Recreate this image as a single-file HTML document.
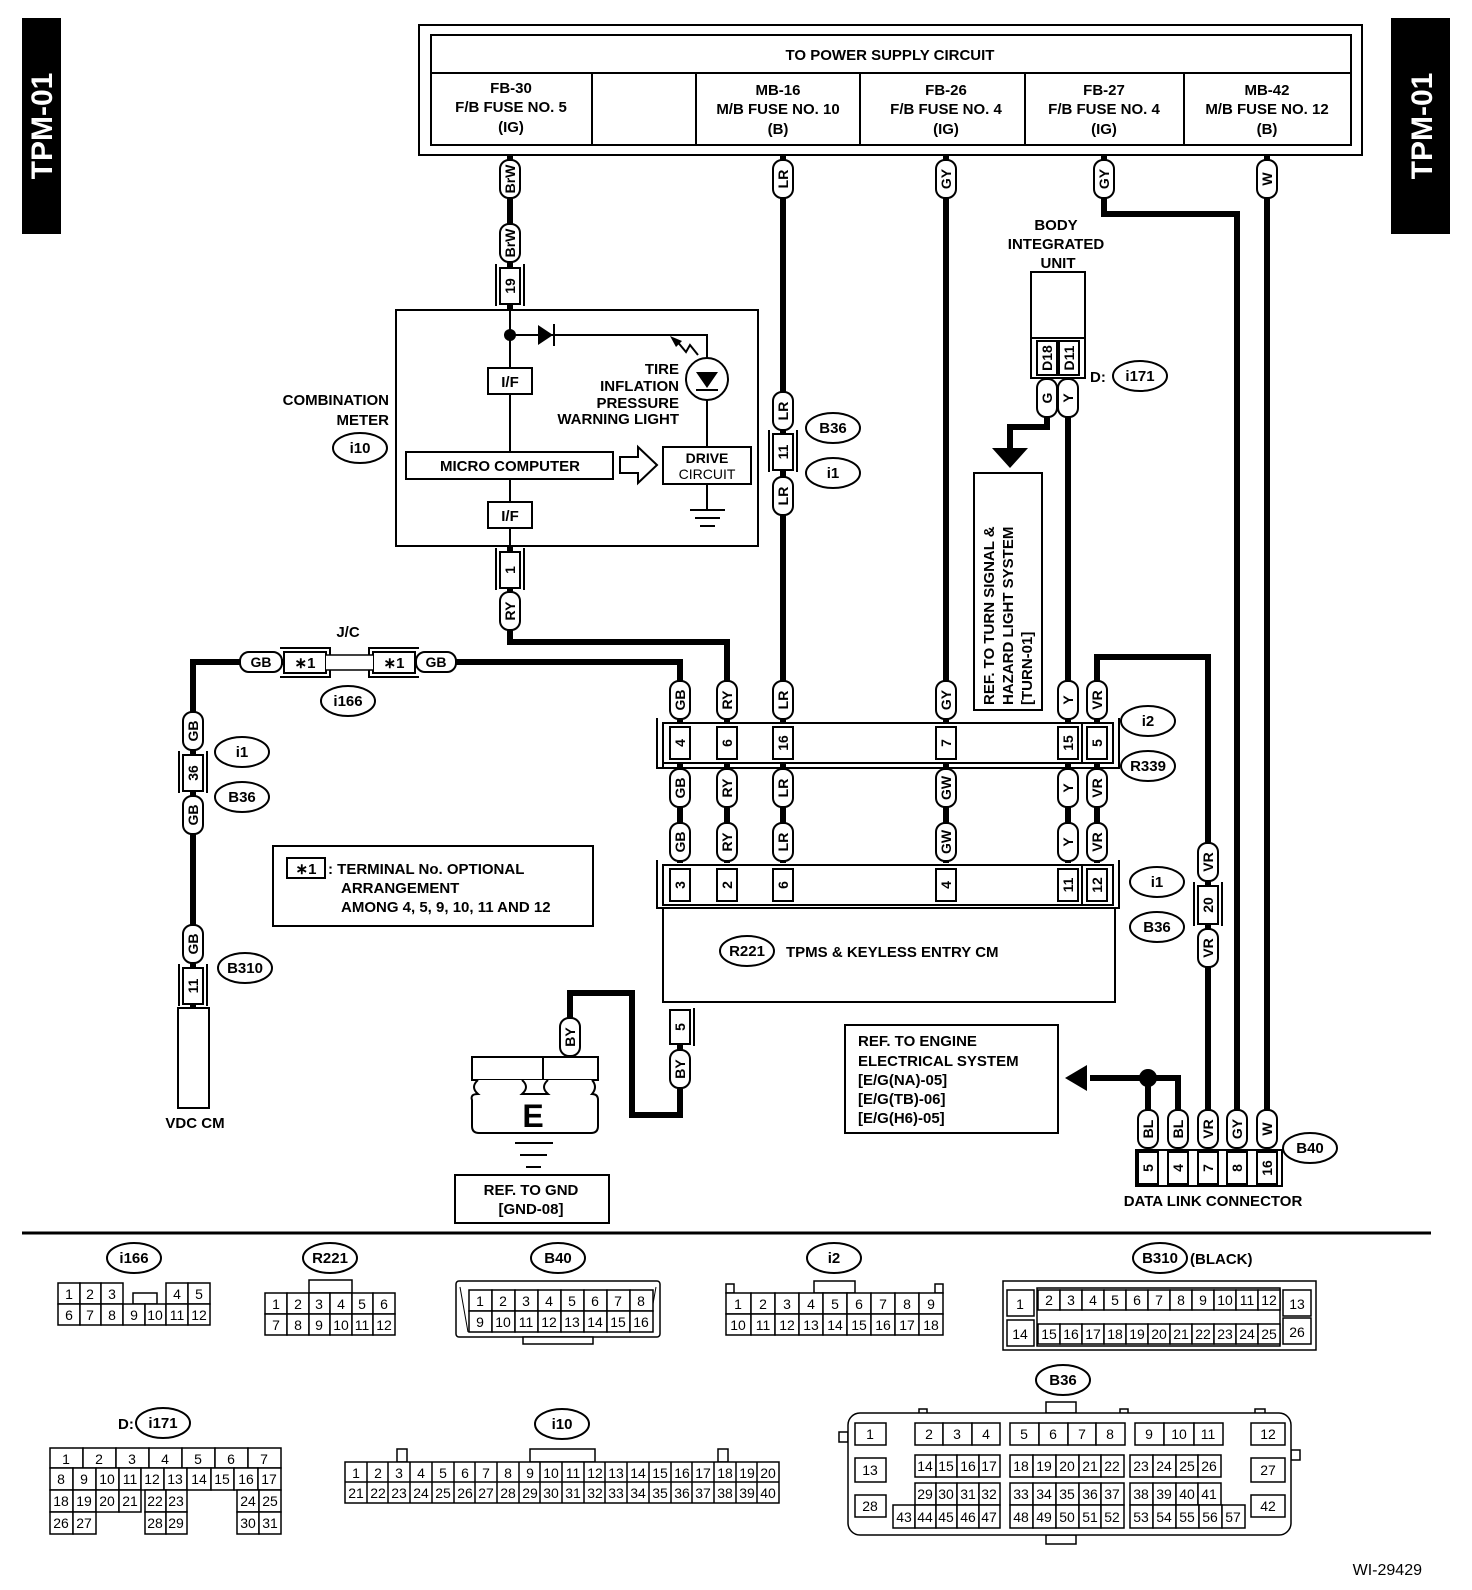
<!DOCTYPE html>
<html><head><meta charset="utf-8"><style>
html,body{margin:0;padding:0;background:#fff}
svg{display:block}
text{font-family:"Liberation Sans",Arial,sans-serif;font-weight:bold;fill:#000}
.w{fill:none;stroke:#000;stroke-width:6}
.t{fill:none;stroke:#000;stroke-width:2}
.b{fill:#fff;stroke:#000;stroke-width:2}
.l rect{fill:#fff;stroke:#000;stroke-width:2}
.l text{font-size:14px;text-anchor:middle}
.c text{font-size:14px;text-anchor:middle;font-weight:normal}
.c rect{fill:#fff;stroke:#000;stroke-width:1.5}
.o ellipse{fill:#fff;stroke:#000;stroke-width:2}
.o text{font-size:15px;text-anchor:middle}
.m{font-size:15px}
</style></head><body>
<svg width="1472" height="1590" viewBox="0 0 1472 1590" xmlns="http://www.w3.org/2000/svg">
<!-- side bars -->
<rect x="22" y="18" width="39" height="216" fill="#000"/>
<text transform="translate(52,126) rotate(-90)" text-anchor="middle" style="font-size:30px;fill:#fff">TPM-01</text>
<rect x="1391" y="18" width="59" height="216" fill="#000"/>
<text transform="translate(1432,126) rotate(-90)" text-anchor="middle" style="font-size:30px;fill:#fff">TPM-01</text>

<!-- power box -->
<rect x="419" y="25" width="943" height="130" class="t"/>
<rect x="431" y="35" width="920" height="110" class="t"/>
<line x1="431" y1="73" x2="1351" y2="73" class="t"/>
<g class="t"><line x1="592" y1="73" x2="592" y2="145"/><line x1="696" y1="73" x2="696" y2="145"/><line x1="860" y1="73" x2="860" y2="145"/><line x1="1025" y1="73" x2="1025" y2="145"/><line x1="1184" y1="73" x2="1184" y2="145"/></g>
<g class="m" text-anchor="middle">
<text x="890" y="60">TO POWER SUPPLY CIRCUIT</text>
<text x="511" y="93">FB-30</text><text x="511" y="112">F/B FUSE NO. 5</text><text x="511" y="132">(IG)</text>
<text x="778" y="95">MB-16</text><text x="778" y="114">M/B FUSE NO. 10</text><text x="778" y="134">(B)</text>
<text x="946" y="95">FB-26</text><text x="946" y="114">F/B FUSE NO. 4</text><text x="946" y="134">(IG)</text>
<text x="1104" y="95">FB-27</text><text x="1104" y="114">F/B FUSE NO. 4</text><text x="1104" y="134">(IG)</text>
<text x="1267" y="95">MB-42</text><text x="1267" y="114">M/B FUSE NO. 12</text><text x="1267" y="134">(B)</text>
</g>

<!-- thick wires -->
<g class="w">
<path d="M510 155V310"/><path d="M783 155V725"/><path d="M946 155V725"/>
<path d="M1104 155V214H1237V1110"/><path d="M1267 155V1110"/>
<path d="M510 546V642H727V725"/>
<path d="M680 725V662H193V1010"/>
<path d="M1068 400V725"/>
<path d="M1097 725V657H1208V1110"/>
<path d="M1148 1078V1110M1148 1078H1178V1110M1148 1078H1090"/>
<path d="M1047 400V427H1010V450"/>
<path d="M680 1045V1115H632V993H570V1020"/>
<path d="M680 763V863M727 763V863M783 763V863M946 763V863M1068 763V863M1097 763V863"/>
</g>
<circle cx="1148" cy="1078" r="9"/>
<polygon points="1065,1078 1087,1065 1087,1091"/>
<polygon points="992,448 1028,448 1010,468"/>

<!-- combination meter -->
<rect x="396" y="310" width="362" height="236" class="t"/>
<g class="t">
<path d="M510 310V455M510 478V546"/>
<path d="M510 335H707V447"/>
<path d="M707 484V510M690 510H725M695 518H720M700 526H715"/>
</g>
<circle cx="510" cy="335" r="6"/>
<polygon points="538,325 538,345 553,335"/><line x1="554" y1="324" x2="554" y2="346" stroke="#000" stroke-width="2"/>
<circle cx="707" cy="379" r="21" class="b"/>
<polygon points="696,372 718,372 707,388"/><line x1="696" y1="390" x2="718" y2="390" stroke="#000" stroke-width="2"/>
<path d="M698 355L690 345L686 352L676 340" class="t"/><polygon points="670,336 682,341 676,347"/>
<rect x="488" y="368" width="44" height="26" class="b"/><text x="510" y="387" text-anchor="middle" class="m">I/F</text>
<rect x="488" y="502" width="44" height="26" class="b"/><text x="510" y="521" text-anchor="middle" class="m">I/F</text>
<rect x="406" y="452" width="207" height="27" class="b"/><text x="510" y="471" text-anchor="middle" class="m">MICRO COMPUTER</text>
<polygon points="620,457 638,457 638,447 657,465 638,483 638,473 620,473" class="b"/>
<rect x="663" y="447" width="88" height="37" class="b"/>
<text x="707" y="463" text-anchor="middle" style="font-size:14px">DRIVE</text><text x="707" y="479" text-anchor="middle" style="font-size:14px;font-weight:normal">CIRCUIT</text>
<g class="m" text-anchor="end"><text x="679" y="374">TIRE</text><text x="679" y="391">INFLATION</text><text x="679" y="408">PRESSURE</text><text x="679" y="424">WARNING LIGHT</text></g>
<g class="m" text-anchor="end"><text x="389" y="405">COMBINATION</text><text x="389" y="425">METER</text></g>

<!-- wire labels -->
<g class="l">
<g transform="translate(510,179)"><rect x="-10" y="-19" width="20" height="38" rx="9"/><text transform="rotate(-90)" y="5">BrW</text></g>
<g transform="translate(510,243)"><rect x="-10" y="-19" width="20" height="38" rx="9"/><text transform="rotate(-90)" y="5">BrW</text></g>
<g transform="translate(783,179)"><rect x="-10" y="-19" width="20" height="38" rx="9"/><text transform="rotate(-90)" y="5">LR</text></g>
<g transform="translate(946,179)"><rect x="-10" y="-19" width="20" height="38" rx="9"/><text transform="rotate(-90)" y="5">GY</text></g>
<g transform="translate(1104,179)"><rect x="-10" y="-19" width="20" height="38" rx="9"/><text transform="rotate(-90)" y="5">GY</text></g>
<g transform="translate(1267,179)"><rect x="-10" y="-19" width="20" height="38" rx="9"/><text transform="rotate(-90)" y="5">W</text></g>
<g transform="translate(783,411)"><rect x="-10" y="-19" width="20" height="38" rx="9"/><text transform="rotate(-90)" y="5">LR</text></g>
<g transform="translate(783,496)"><rect x="-10" y="-19" width="20" height="38" rx="9"/><text transform="rotate(-90)" y="5">LR</text></g>
<g transform="translate(510,611)"><rect x="-10" y="-19" width="20" height="38" rx="9"/><text transform="rotate(-90)" y="5">RY</text></g>
<g transform="translate(1047,398)"><rect x="-10" y="-19" width="20" height="38" rx="9"/><text transform="rotate(-90)" y="5">G</text></g>
<g transform="translate(1068,398)"><rect x="-10" y="-19" width="20" height="38" rx="9"/><text transform="rotate(-90)" y="5">Y</text></g>
<!-- row top -->
<g transform="translate(680,700)"><rect x="-10" y="-19" width="20" height="38" rx="9"/><text transform="rotate(-90)" y="5">GB</text></g>
<g transform="translate(727,700)"><rect x="-10" y="-19" width="20" height="38" rx="9"/><text transform="rotate(-90)" y="5">RY</text></g>
<g transform="translate(783,700)"><rect x="-10" y="-19" width="20" height="38" rx="9"/><text transform="rotate(-90)" y="5">LR</text></g>
<g transform="translate(946,700)"><rect x="-10" y="-19" width="20" height="38" rx="9"/><text transform="rotate(-90)" y="5">GY</text></g>
<g transform="translate(1068,700)"><rect x="-10" y="-19" width="20" height="38" rx="9"/><text transform="rotate(-90)" y="5">Y</text></g>
<g transform="translate(1097,700)"><rect x="-10" y="-19" width="20" height="38" rx="9"/><text transform="rotate(-90)" y="5">VR</text></g>
<!-- row mid -->
<g transform="translate(680,788)"><rect x="-10" y="-19" width="20" height="38" rx="9"/><text transform="rotate(-90)" y="5">GB</text></g>
<g transform="translate(727,788)"><rect x="-10" y="-19" width="20" height="38" rx="9"/><text transform="rotate(-90)" y="5">RY</text></g>
<g transform="translate(783,788)"><rect x="-10" y="-19" width="20" height="38" rx="9"/><text transform="rotate(-90)" y="5">LR</text></g>
<g transform="translate(946,788)"><rect x="-10" y="-19" width="20" height="38" rx="9"/><text transform="rotate(-90)" y="5">GW</text></g>
<g transform="translate(1068,788)"><rect x="-10" y="-19" width="20" height="38" rx="9"/><text transform="rotate(-90)" y="5">Y</text></g>
<g transform="translate(1097,788)"><rect x="-10" y="-19" width="20" height="38" rx="9"/><text transform="rotate(-90)" y="5">VR</text></g>
<g transform="translate(680,842)"><rect x="-10" y="-19" width="20" height="38" rx="9"/><text transform="rotate(-90)" y="5">GB</text></g>
<g transform="translate(727,842)"><rect x="-10" y="-19" width="20" height="38" rx="9"/><text transform="rotate(-90)" y="5">RY</text></g>
<g transform="translate(783,842)"><rect x="-10" y="-19" width="20" height="38" rx="9"/><text transform="rotate(-90)" y="5">LR</text></g>
<g transform="translate(946,842)"><rect x="-10" y="-19" width="20" height="38" rx="9"/><text transform="rotate(-90)" y="5">GW</text></g>
<g transform="translate(1068,842)"><rect x="-10" y="-19" width="20" height="38" rx="9"/><text transform="rotate(-90)" y="5">Y</text></g>
<g transform="translate(1097,842)"><rect x="-10" y="-19" width="20" height="38" rx="9"/><text transform="rotate(-90)" y="5">VR</text></g>
<!-- GB left -->
<g transform="translate(193,731)"><rect x="-10" y="-19" width="20" height="38" rx="9"/><text transform="rotate(-90)" y="5">GB</text></g>
<g transform="translate(193,815)"><rect x="-10" y="-19" width="20" height="38" rx="9"/><text transform="rotate(-90)" y="5">GB</text></g>
<g transform="translate(193,944)"><rect x="-10" y="-19" width="20" height="38" rx="9"/><text transform="rotate(-90)" y="5">GB</text></g>
<!-- VR right -->
<g transform="translate(1208,862)"><rect x="-10" y="-19" width="20" height="38" rx="9"/><text transform="rotate(-90)" y="5">VR</text></g>
<g transform="translate(1208,948)"><rect x="-10" y="-19" width="20" height="38" rx="9"/><text transform="rotate(-90)" y="5">VR</text></g>
<!-- BY -->
<g transform="translate(570,1037)"><rect x="-10" y="-19" width="20" height="38" rx="9"/><text transform="rotate(-90)" y="5">BY</text></g>
<g transform="translate(680,1069)"><rect x="-10" y="-19" width="20" height="38" rx="9"/><text transform="rotate(-90)" y="5">BY</text></g>
<!-- DLC -->
<g transform="translate(1148,1129)"><rect x="-10" y="-19" width="20" height="38" rx="9"/><text transform="rotate(-90)" y="5">BL</text></g>
<g transform="translate(1178,1129)"><rect x="-10" y="-19" width="20" height="38" rx="9"/><text transform="rotate(-90)" y="5">BL</text></g>
<g transform="translate(1208,1129)"><rect x="-10" y="-19" width="20" height="38" rx="9"/><text transform="rotate(-90)" y="5">VR</text></g>
<g transform="translate(1237,1129)"><rect x="-10" y="-19" width="20" height="38" rx="9"/><text transform="rotate(-90)" y="5">GY</text></g>
<g transform="translate(1267,1129)"><rect x="-10" y="-19" width="20" height="38" rx="9"/><text transform="rotate(-90)" y="5">W</text></g>
<!-- GB horizontal -->
<rect x="240" y="652" width="42" height="20" rx="9"/><text x="261" y="667">GB</text>
<rect x="416" y="652" width="40" height="20" rx="9"/><text x="436" y="667">GB</text>
</g>

<!-- pin connectors (vertical) -->
<g class="l">
<rect x="500" y="268" width="20" height="36"/><text transform="translate(515,286) rotate(-90)">19</text>
<rect x="500" y="552" width="20" height="36"/><text transform="translate(515,570) rotate(-90)">1</text>
<rect x="773" y="434" width="20" height="36"/><text transform="translate(788,452) rotate(-90)">11</text>
<rect x="183" y="755" width="20" height="36"/><text transform="translate(198,773) rotate(-90)">36</text>
<rect x="183" y="968" width="20" height="36"/><text transform="translate(198,986) rotate(-90)">11</text>
<rect x="1198" y="886" width="20" height="38"/><text transform="translate(1213,905) rotate(-90)">20</text>
<rect x="670" y="1010" width="20" height="34"/><text transform="translate(685,1027) rotate(-90)">5</text>
</g>
<g class="t">
<path d="M496 264V306M524 264V306M496 548V590M524 548V590M769 430V472M797 430V472M179 751V793M207 751V793M179 964V1006M207 964V1006M1194 882V926M1222 882V926M694 1008V1046"/>
</g>
<rect x="178" y="1008" width="31" height="100" class="b"/>
<text x="195" y="1128" text-anchor="middle" class="m">VDC CM</text>

<!-- J/C -->
<rect x="284" y="652" width="42" height="21" class="b"/><text x="305" y="668" text-anchor="middle" class="m">∗1</text>
<rect x="373" y="652" width="42" height="21" class="b"/><text x="394" y="668" text-anchor="middle" class="m">∗1</text>
<path d="M280 648H330V677H280M419 648H369V677H419" class="t"/>
<rect x="326" y="655" width="47" height="15" fill="#fff"/>
<line x1="326" y1="655" x2="373" y2="655" stroke="#000" stroke-width="1.5"/><line x1="326" y1="670" x2="373" y2="670" stroke="#000" stroke-width="1.5"/>
<text x="348" y="637" text-anchor="middle" class="m">J/C</text>

<!-- row connectors i2 / R339 -->
<rect x="663" y="723" width="450" height="40" class="b"/>
<path d="M657 718V768H1119V718" class="t"/>
<path d="M663 763V768" class="t"/>
<g class="l">
<rect x="670" y="727" width="20" height="32"/><text transform="translate(685,743) rotate(-90)">4</text>
<rect x="717" y="727" width="20" height="32"/><text transform="translate(732,743) rotate(-90)">6</text>
<rect x="773" y="727" width="20" height="32"/><text transform="translate(788,743) rotate(-90)">16</text>
<rect x="936" y="727" width="20" height="32"/><text transform="translate(951,743) rotate(-90)">7</text>
<rect x="1058" y="727" width="20" height="32"/><text transform="translate(1073,743) rotate(-90)">15</text>
<rect x="1087" y="727" width="20" height="32"/><text transform="translate(1102,743) rotate(-90)">5</text>
</g>
<line x1="1082" y1="723" x2="1082" y2="763" stroke="#000" stroke-width="2"/>
<!-- R221 connector row -->
<rect x="663" y="865" width="450" height="40" class="b"/>
<path d="M657 860V908H1119V860" class="t"/>
<g class="l">
<rect x="670" y="869" width="20" height="32"/><text transform="translate(685,885) rotate(-90)">3</text>
<rect x="717" y="869" width="20" height="32"/><text transform="translate(732,885) rotate(-90)">2</text>
<rect x="773" y="869" width="20" height="32"/><text transform="translate(788,885) rotate(-90)">6</text>
<rect x="936" y="869" width="20" height="32"/><text transform="translate(951,885) rotate(-90)">4</text>
<rect x="1058" y="869" width="20" height="32"/><text transform="translate(1073,885) rotate(-90)">11</text>
<rect x="1087" y="869" width="20" height="32"/><text transform="translate(1102,885) rotate(-90)">12</text>
</g>
<line x1="1082" y1="865" x2="1082" y2="905" stroke="#000" stroke-width="2"/>
<rect x="663" y="908" width="452" height="94" class="b"/>
<text x="786" y="957" class="m">TPMS &amp; KEYLESS ENTRY CM</text>

<!-- body integrated unit -->
<g class="m" text-anchor="middle"><text x="1056" y="230">BODY</text><text x="1056" y="249">INTEGRATED</text><text x="1058" y="268">UNIT</text></g>
<rect x="1031" y="272" width="54" height="66" class="b"/>
<rect x="1031" y="338" width="54" height="40" class="b"/>
<g class="l"><rect x="1037" y="341" width="20" height="34"/><text transform="translate(1052,358) rotate(-90)">D18</text>
<rect x="1059" y="341" width="20" height="34"/><text transform="translate(1074,358) rotate(-90)">D11</text></g>
<rect x="974" y="473" width="68" height="237" class="t"/>
<g class="m"><text transform="translate(994,705) rotate(-90)">REF. TO TURN SIGNAL &amp;</text><text transform="translate(1013,705) rotate(-90)">HAZARD LIGHT SYSTEM</text><text transform="translate(1032,705) rotate(-90)">[TURN-01]</text></g>

<!-- legend -->
<rect x="273" y="846" width="320" height="80" class="t"/>
<rect x="287" y="858" width="38" height="20" class="t"/><text x="306" y="874" text-anchor="middle" class="m">∗1</text>
<g class="m"><text x="328" y="874">: TERMINAL No. OPTIONAL</text><text x="341" y="893">ARRANGEMENT</text><text x="341" y="912">AMONG 4, 5, 9, 10, 11 AND 12</text></g>

<!-- ground -->
<rect x="472" y="1057" width="87" height="23" class="b"/>
<rect x="543" y="1057" width="55" height="23" class="b"/>
<path d="M478 1080Q470 1087 478 1094L478 1094Q470 1094 472 1100V1126Q472 1133 479 1133H591Q598 1133 598 1126V1100Q598 1094 592 1094Q598 1087 592 1080M522 1080Q530 1087 522 1094H548Q540 1087 548 1080" class="b"/>
<text x="533" y="1127" text-anchor="middle" style="font-size:32px">E</text>
<path d="M515 1143H553M520 1155H547M526 1167H541" class="t"/>
<rect x="455" y="1175" width="154" height="48" class="t"/>
<g class="m" text-anchor="middle"><text x="531" y="1195">REF. TO GND</text><text x="531" y="1214">[GND-08]</text></g>

<!-- engine ref -->
<rect x="845" y="1025" width="213" height="108" class="t"/>
<g class="m"><text x="858" y="1046">REF. TO ENGINE</text><text x="858" y="1066">ELECTRICAL SYSTEM</text><text x="858" y="1085">[E/G(NA)-05]</text><text x="858" y="1104">[E/G(TB)-06]</text><text x="858" y="1123">[E/G(H6)-05]</text></g>

<!-- DLC -->
<rect x="1136" y="1150" width="146" height="36" class="b"/>
<g class="l">
<rect x="1138" y="1152" width="20" height="32"/><text transform="translate(1153,1168) rotate(-90)">5</text>
<rect x="1168" y="1152" width="20" height="32"/><text transform="translate(1183,1168) rotate(-90)">4</text>
<rect x="1198" y="1152" width="20" height="32"/><text transform="translate(1213,1168) rotate(-90)">7</text>
<rect x="1227" y="1152" width="20" height="32"/><text transform="translate(1242,1168) rotate(-90)">8</text>
<rect x="1257" y="1152" width="20" height="32"/><text transform="translate(1272,1168) rotate(-90)">16</text>
</g>
<text x="1213" y="1206" text-anchor="middle" class="m">DATA LINK CONNECTOR</text>

<!-- ovals -->
<g class="o">
<g transform="translate(360,448)"><ellipse rx="27" ry="15"/><text y="5">i10</text></g>
<g transform="translate(833,428)"><ellipse rx="27" ry="15"/><text y="5">B36</text></g>
<g transform="translate(833,473)"><ellipse rx="27" ry="15"/><text y="5">i1</text></g>
<g transform="translate(1140,376)"><ellipse rx="27" ry="15"/><text y="5">i171</text></g>
<g transform="translate(1148,721)"><ellipse rx="27" ry="15"/><text y="5">i2</text></g>
<g transform="translate(1148,766)"><ellipse rx="27" ry="15"/><text y="5">R339</text></g>
<g transform="translate(1157,882)"><ellipse rx="27" ry="15"/><text y="5">i1</text></g>
<g transform="translate(1157,927)"><ellipse rx="27" ry="15"/><text y="5">B36</text></g>
<g transform="translate(348,701)"><ellipse rx="27" ry="15"/><text y="5">i166</text></g>
<g transform="translate(242,752)"><ellipse rx="27" ry="15"/><text y="5">i1</text></g>
<g transform="translate(242,797)"><ellipse rx="27" ry="15"/><text y="5">B36</text></g>
<g transform="translate(245,968)"><ellipse rx="27" ry="15"/><text y="5">B310</text></g>
<g transform="translate(747,951)"><ellipse rx="27" ry="15"/><text y="5">R221</text></g>
<g transform="translate(1310,1148)"><ellipse rx="27" ry="15"/><text y="5">B40</text></g>
<g transform="translate(134,1258)"><ellipse rx="27" ry="15"/><text y="5">i166</text></g>
<g transform="translate(330,1258)"><ellipse rx="27" ry="15"/><text y="5">R221</text></g>
<g transform="translate(558,1258)"><ellipse rx="27" ry="15"/><text y="5">B40</text></g>
<g transform="translate(834,1258)"><ellipse rx="27" ry="15"/><text y="5">i2</text></g>
<g transform="translate(1160,1258)"><ellipse rx="27" ry="15"/><text y="5">B310</text></g>
<g transform="translate(1063,1380)"><ellipse rx="27" ry="15"/><text y="5">B36</text></g>
<g transform="translate(163,1423)"><ellipse rx="27" ry="15"/><text y="5">i171</text></g>
<g transform="translate(562,1424)"><ellipse rx="27" ry="15"/><text y="5">i10</text></g>
</g>
<text x="1090" y="382" class="m">D:</text>
<text x="1190" y="1264" class="m">(BLACK)</text>
<text x="118" y="1429" class="m">D:</text>

<!-- separator -->
<line x1="22" y1="1233" x2="1431" y2="1233" stroke="#000" stroke-width="3"/>

<!-- i166 -->
<g class="c">
<rect x="58" y="1283" width="22" height="21"/><text x="69" y="1299">1</text>
<rect x="80" y="1283" width="21" height="21"/><text x="90" y="1299">2</text>
<rect x="101" y="1283" width="22" height="21"/><text x="112" y="1299">3</text>
<rect x="133" y="1293" width="24" height="11"/>
<rect x="166" y="1283" width="22" height="21"/><text x="177" y="1299">4</text>
<rect x="188" y="1283" width="22" height="21"/><text x="199" y="1299">5</text>
<rect x="58" y="1304" width="22" height="21"/><text x="69" y="1320">6</text>
<rect x="80" y="1304" width="21" height="21"/><text x="90" y="1320">7</text>
<rect x="101" y="1304" width="22" height="21"/><text x="112" y="1320">8</text>
<rect x="123" y="1304" width="22" height="21"/><text x="134" y="1320">9</text>
<rect x="145" y="1304" width="21" height="21"/><text x="155" y="1320">10</text>
<rect x="166" y="1304" width="22" height="21"/><text x="177" y="1320">11</text>
<rect x="188" y="1304" width="22" height="21"/><text x="199" y="1320">12</text>
</g>
<!-- R221 -->
<g class="c">
<rect x="309" y="1280" width="43" height="13"/>
<rect x="265" y="1293" width="22" height="21"/><text x="276" y="1309">1</text>
<rect x="287" y="1293" width="22" height="21"/><text x="298" y="1309">2</text>
<rect x="309" y="1293" width="21" height="21"/><text x="319" y="1309">3</text>
<rect x="330" y="1293" width="22" height="21"/><text x="341" y="1309">4</text>
<rect x="352" y="1293" width="21" height="21"/><text x="362" y="1309">5</text>
<rect x="373" y="1293" width="22" height="21"/><text x="384" y="1309">6</text>
<rect x="265" y="1314" width="22" height="21"/><text x="276" y="1330">7</text>
<rect x="287" y="1314" width="22" height="21"/><text x="298" y="1330">8</text>
<rect x="309" y="1314" width="21" height="21"/><text x="319" y="1330">9</text>
<rect x="330" y="1314" width="22" height="21"/><text x="341" y="1330">10</text>
<rect x="352" y="1314" width="21" height="21"/><text x="362" y="1330">11</text>
<rect x="373" y="1314" width="22" height="21"/><text x="384" y="1330">12</text>
</g>
<!-- B40 -->
<g class="c">
<rect x="456" y="1281" width="204" height="56" rx="3"/>
<path d="M460 1287L468 1332M656 1287L648 1332" stroke="#000" fill="none"/>
<rect x="523" y="1337" width="70" height="7"/>
<rect x="469" y="1290" width="23" height="21"/><text x="480" y="1306">1</text>
<rect x="492" y="1290" width="23" height="21"/><text x="503" y="1306">2</text>
<rect x="515" y="1290" width="23" height="21"/><text x="526" y="1306">3</text>
<rect x="538" y="1290" width="23" height="21"/><text x="549" y="1306">4</text>
<rect x="561" y="1290" width="23" height="21"/><text x="572" y="1306">5</text>
<rect x="584" y="1290" width="23" height="21"/><text x="595" y="1306">6</text>
<rect x="607" y="1290" width="23" height="21"/><text x="618" y="1306">7</text>
<rect x="630" y="1290" width="23" height="21"/><text x="641" y="1306">8</text>
<rect x="469" y="1311" width="23" height="21"/><text x="480" y="1327">9</text>
<rect x="492" y="1311" width="23" height="21"/><text x="503" y="1327">10</text>
<rect x="515" y="1311" width="23" height="21"/><text x="526" y="1327">11</text>
<rect x="538" y="1311" width="23" height="21"/><text x="549" y="1327">12</text>
<rect x="561" y="1311" width="23" height="21"/><text x="572" y="1327">13</text>
<rect x="584" y="1311" width="23" height="21"/><text x="595" y="1327">14</text>
<rect x="607" y="1311" width="23" height="21"/><text x="618" y="1327">15</text>
<rect x="630" y="1311" width="23" height="21"/><text x="641" y="1327">16</text>
</g>
<!-- i2 -->
<g class="c">
<rect x="814" y="1281" width="41" height="12"/>
<rect x="726" y="1284" width="8" height="9"/><rect x="935" y="1284" width="8" height="9"/>
<rect x="726" y="1293" width="25" height="21"/><text x="738" y="1309">1</text>
<rect x="751" y="1293" width="24" height="21"/><text x="763" y="1309">2</text>
<rect x="775" y="1293" width="24" height="21"/><text x="787" y="1309">3</text>
<rect x="799" y="1293" width="24" height="21"/><text x="811" y="1309">4</text>
<rect x="823" y="1293" width="24" height="21"/><text x="835" y="1309">5</text>
<rect x="847" y="1293" width="24" height="21"/><text x="859" y="1309">6</text>
<rect x="871" y="1293" width="24" height="21"/><text x="883" y="1309">7</text>
<rect x="895" y="1293" width="24" height="21"/><text x="907" y="1309">8</text>
<rect x="919" y="1293" width="24" height="21"/><text x="931" y="1309">9</text>
<rect x="726" y="1314" width="25" height="21"/><text x="738" y="1330">10</text>
<rect x="751" y="1314" width="24" height="21"/><text x="763" y="1330">11</text>
<rect x="775" y="1314" width="24" height="21"/><text x="787" y="1330">12</text>
<rect x="799" y="1314" width="24" height="21"/><text x="811" y="1330">13</text>
<rect x="823" y="1314" width="24" height="21"/><text x="835" y="1330">14</text>
<rect x="847" y="1314" width="24" height="21"/><text x="859" y="1330">15</text>
<rect x="871" y="1314" width="24" height="21"/><text x="883" y="1330">16</text>
<rect x="895" y="1314" width="24" height="21"/><text x="907" y="1330">17</text>
<rect x="919" y="1314" width="24" height="21"/><text x="931" y="1330">18</text>
</g>
<!-- B310 -->
<g class="c">
<rect x="1003" y="1281" width="313" height="69"/>
<rect x="1007" y="1290" width="27" height="26"/><text x="1020" y="1309">1</text>
<rect x="1007" y="1320" width="27" height="26"/><text x="1020" y="1339">14</text>
<rect x="1283" y="1290" width="28" height="26"/><text x="1297" y="1309">13</text>
<rect x="1283" y="1318" width="28" height="26"/><text x="1297" y="1337">26</text>
<rect x="1037" y="1288" width="243" height="58" fill="none"/>
<rect x="1038" y="1290" width="22" height="20"/><text x="1049" y="1305">2</text>
<rect x="1060" y="1290" width="22" height="20"/><text x="1071" y="1305">3</text>
<rect x="1082" y="1290" width="22" height="20"/><text x="1093" y="1305">4</text>
<rect x="1104" y="1290" width="22" height="20"/><text x="1115" y="1305">5</text>
<rect x="1126" y="1290" width="22" height="20"/><text x="1137" y="1305">6</text>
<rect x="1148" y="1290" width="22" height="20"/><text x="1159" y="1305">7</text>
<rect x="1170" y="1290" width="22" height="20"/><text x="1181" y="1305">8</text>
<rect x="1192" y="1290" width="22" height="20"/><text x="1203" y="1305">9</text>
<rect x="1214" y="1290" width="22" height="20"/><text x="1225" y="1305">10</text>
<rect x="1236" y="1290" width="22" height="20"/><text x="1247" y="1305">11</text>
<rect x="1258" y="1290" width="22" height="20"/><text x="1269" y="1305">12</text>
<rect x="1038" y="1324" width="22" height="20"/><text x="1049" y="1339">15</text>
<rect x="1060" y="1324" width="22" height="20"/><text x="1071" y="1339">16</text>
<rect x="1082" y="1324" width="22" height="20"/><text x="1093" y="1339">17</text>
<rect x="1104" y="1324" width="22" height="20"/><text x="1115" y="1339">18</text>
<rect x="1126" y="1324" width="22" height="20"/><text x="1137" y="1339">19</text>
<rect x="1148" y="1324" width="22" height="20"/><text x="1159" y="1339">20</text>
<rect x="1170" y="1324" width="22" height="20"/><text x="1181" y="1339">21</text>
<rect x="1192" y="1324" width="22" height="20"/><text x="1203" y="1339">22</text>
<rect x="1214" y="1324" width="22" height="20"/><text x="1225" y="1339">23</text>
<rect x="1236" y="1324" width="22" height="20"/><text x="1247" y="1339">24</text>
<rect x="1258" y="1324" width="22" height="20"/><text x="1269" y="1339">25</text>
</g>
<!-- i171 -->
<g class="c">
<rect x="50" y="1448" width="33" height="20"/><text x="66" y="1464">1</text>
<rect x="83" y="1448" width="33" height="20"/><text x="99" y="1464">2</text>
<rect x="116" y="1448" width="33" height="20"/><text x="132" y="1464">3</text>
<rect x="149" y="1448" width="33" height="20"/><text x="165" y="1464">4</text>
<rect x="182" y="1448" width="33" height="20"/><text x="198" y="1464">5</text>
<rect x="215" y="1448" width="33" height="20"/><text x="231" y="1464">6</text>
<rect x="248" y="1448" width="33" height="20"/><text x="264" y="1464">7</text>
<rect x="50" y="1468" width="23" height="22"/><text x="61" y="1484">8</text>
<rect x="73" y="1468" width="23" height="22"/><text x="84" y="1484">9</text>
<rect x="96" y="1468" width="23" height="22"/><text x="107" y="1484">10</text>
<rect x="119" y="1468" width="22" height="22"/><text x="130" y="1484">11</text>
<rect x="141" y="1468" width="23" height="22"/><text x="152" y="1484">12</text>
<rect x="164" y="1468" width="23" height="22"/><text x="175" y="1484">13</text>
<rect x="187" y="1468" width="24" height="22"/><text x="199" y="1484">14</text>
<rect x="211" y="1468" width="23" height="22"/><text x="222" y="1484">15</text>
<rect x="234" y="1468" width="24" height="22"/><text x="246" y="1484">16</text>
<rect x="258" y="1468" width="23" height="22"/><text x="269" y="1484">17</text>
<rect x="50" y="1490" width="23" height="22"/><text x="61" y="1506">18</text>
<rect x="73" y="1490" width="23" height="22"/><text x="84" y="1506">19</text>
<rect x="96" y="1490" width="23" height="22"/><text x="107" y="1506">20</text>
<rect x="119" y="1490" width="22" height="22"/><text x="130" y="1506">21</text>
<rect x="145" y="1490" width="21" height="22"/><text x="155" y="1506">22</text>
<rect x="166" y="1490" width="21" height="22"/><text x="176" y="1506">23</text>
<rect x="237" y="1490" width="22" height="22"/><text x="248" y="1506">24</text>
<rect x="259" y="1490" width="22" height="22"/><text x="270" y="1506">25</text>
<rect x="50" y="1512" width="23" height="22"/><text x="61" y="1528">26</text>
<rect x="73" y="1512" width="23" height="22"/><text x="84" y="1528">27</text>
<rect x="145" y="1512" width="21" height="22"/><text x="155" y="1528">28</text>
<rect x="166" y="1512" width="21" height="22"/><text x="176" y="1528">29</text>
<rect x="237" y="1512" width="22" height="22"/><text x="248" y="1528">30</text>
<rect x="259" y="1512" width="22" height="22"/><text x="270" y="1528">31</text>
</g>
<!-- i10 -->
<g class="c">
<rect x="397" y="1449" width="10" height="13"/><rect x="530" y="1449" width="65" height="13"/><rect x="718" y="1449" width="10" height="13"/>
<rect x="345" y="1462" width="434" height="41" fill="none"/>
<g stroke="#000" stroke-width="1.5">
<line x1="345" y1="1482" x2="779" y2="1482"/>
<path d="M367 1462V1503M388 1462V1503M410 1462V1503M432 1462V1503M454 1462V1503M475 1462V1503M497 1462V1503M519 1462V1503M540 1462V1503M562 1462V1503M584 1462V1503M605 1462V1503M627 1462V1503M649 1462V1503M671 1462V1503M692 1462V1503M714 1462V1503M736 1462V1503M757 1462V1503"/>
</g>
<text x="356" y="1478">1</text><text x="378" y="1478">2</text><text x="399" y="1478">3</text><text x="421" y="1478">4</text><text x="443" y="1478">5</text><text x="465" y="1478">6</text><text x="486" y="1478">7</text><text x="508" y="1478">8</text><text x="530" y="1478">9</text><text x="551" y="1478">10</text><text x="573" y="1478">11</text><text x="595" y="1478">12</text><text x="616" y="1478">13</text><text x="638" y="1478">14</text><text x="660" y="1478">15</text><text x="682" y="1478">16</text><text x="703" y="1478">17</text><text x="725" y="1478">18</text><text x="747" y="1478">19</text><text x="768" y="1478">20</text>
<text x="356" y="1498">21</text><text x="378" y="1498">22</text><text x="399" y="1498">23</text><text x="421" y="1498">24</text><text x="443" y="1498">25</text><text x="465" y="1498">26</text><text x="486" y="1498">27</text><text x="508" y="1498">28</text><text x="530" y="1498">29</text><text x="551" y="1498">30</text><text x="573" y="1498">31</text><text x="595" y="1498">32</text><text x="616" y="1498">33</text><text x="638" y="1498">34</text><text x="660" y="1498">35</text><text x="682" y="1498">36</text><text x="703" y="1498">37</text><text x="725" y="1498">38</text><text x="747" y="1498">39</text><text x="768" y="1498">40</text>
</g>
<!-- B36 -->
<g class="c">
<rect x="1046" y="1402" width="30" height="11"/><rect x="1046" y="1535" width="30" height="9"/>
<rect x="919" y="1409" width="8" height="5"/><rect x="1120" y="1409" width="8" height="5"/><rect x="1255" y="1409" width="10" height="5"/>
<rect x="839" y="1432" width="9" height="10"/><rect x="1291" y="1450" width="9" height="10"/>
<rect x="848" y="1413" width="443" height="122" rx="12"/>
<rect x="855" y="1423" width="31" height="22"/><text x="870" y="1439">1</text>
<rect x="855" y="1458" width="31" height="24"/><text x="870" y="1475">13</text>
<rect x="855" y="1495" width="31" height="22"/><text x="870" y="1511">28</text>
<rect x="1251" y="1423" width="34" height="22"/><text x="1268" y="1439">12</text>
<rect x="1251" y="1458" width="34" height="24"/><text x="1268" y="1475">27</text>
<rect x="1251" y="1495" width="34" height="22"/><text x="1268" y="1511">42</text>
<rect x="915" y="1423" width="28" height="22"/><text x="929" y="1439">2</text>
<rect x="943" y="1423" width="29" height="22"/><text x="957" y="1439">3</text>
<rect x="972" y="1423" width="28" height="22"/><text x="986" y="1439">4</text>
<rect x="1010" y="1423" width="29" height="22"/><text x="1024" y="1439">5</text>
<rect x="1039" y="1423" width="29" height="22"/><text x="1053" y="1439">6</text>
<rect x="1068" y="1423" width="28" height="22"/><text x="1082" y="1439">7</text>
<rect x="1096" y="1423" width="29" height="22"/><text x="1110" y="1439">8</text>
<rect x="1135" y="1423" width="29" height="22"/><text x="1149" y="1439">9</text>
<rect x="1164" y="1423" width="30" height="22"/><text x="1179" y="1439">10</text>
<rect x="1194" y="1423" width="29" height="22"/><text x="1208" y="1439">11</text>
<rect x="915" y="1455" width="21" height="22"/><text x="925" y="1471">14</text>
<rect x="936" y="1455" width="21" height="22"/><text x="946" y="1471">15</text>
<rect x="957" y="1455" width="22" height="22"/><text x="968" y="1471">16</text>
<rect x="979" y="1455" width="21" height="22"/><text x="989" y="1471">17</text>
<rect x="1010" y="1455" width="23" height="22"/><text x="1021" y="1471">18</text>
<rect x="1033" y="1455" width="23" height="22"/><text x="1044" y="1471">19</text>
<rect x="1056" y="1455" width="23" height="22"/><text x="1067" y="1471">20</text>
<rect x="1079" y="1455" width="22" height="22"/><text x="1090" y="1471">21</text>
<rect x="1101" y="1455" width="23" height="22"/><text x="1112" y="1471">22</text>
<rect x="1130" y="1455" width="23" height="22"/><text x="1141" y="1471">23</text>
<rect x="1153" y="1455" width="23" height="22"/><text x="1164" y="1471">24</text>
<rect x="1176" y="1455" width="22" height="22"/><text x="1187" y="1471">25</text>
<rect x="1198" y="1455" width="23" height="22"/><text x="1209" y="1471">26</text>
<rect x="915" y="1483" width="21" height="22"/><text x="925" y="1499">29</text>
<rect x="936" y="1483" width="21" height="22"/><text x="946" y="1499">30</text>
<rect x="957" y="1483" width="22" height="22"/><text x="968" y="1499">31</text>
<rect x="979" y="1483" width="21" height="22"/><text x="989" y="1499">32</text>
<rect x="1010" y="1483" width="23" height="22"/><text x="1021" y="1499">33</text>
<rect x="1033" y="1483" width="23" height="22"/><text x="1044" y="1499">34</text>
<rect x="1056" y="1483" width="23" height="22"/><text x="1067" y="1499">35</text>
<rect x="1079" y="1483" width="22" height="22"/><text x="1090" y="1499">36</text>
<rect x="1101" y="1483" width="23" height="22"/><text x="1112" y="1499">37</text>
<rect x="1130" y="1483" width="23" height="22"/><text x="1141" y="1499">38</text>
<rect x="1153" y="1483" width="23" height="22"/><text x="1164" y="1499">39</text>
<rect x="1176" y="1483" width="22" height="22"/><text x="1187" y="1499">40</text>
<rect x="1198" y="1483" width="23" height="22"/><text x="1209" y="1499">41</text>
<rect x="893" y="1505" width="22" height="23"/><text x="904" y="1522">43</text>
<rect x="915" y="1505" width="21" height="23"/><text x="925" y="1522">44</text>
<rect x="936" y="1505" width="21" height="23"/><text x="946" y="1522">45</text>
<rect x="957" y="1505" width="22" height="23"/><text x="968" y="1522">46</text>
<rect x="979" y="1505" width="21" height="23"/><text x="989" y="1522">47</text>
<rect x="1010" y="1505" width="23" height="23"/><text x="1021" y="1522">48</text>
<rect x="1033" y="1505" width="23" height="23"/><text x="1044" y="1522">49</text>
<rect x="1056" y="1505" width="23" height="23"/><text x="1067" y="1522">50</text>
<rect x="1079" y="1505" width="22" height="23"/><text x="1090" y="1522">51</text>
<rect x="1101" y="1505" width="23" height="23"/><text x="1112" y="1522">52</text>
<rect x="1130" y="1505" width="23" height="23"/><text x="1141" y="1522">53</text>
<rect x="1153" y="1505" width="23" height="23"/><text x="1164" y="1522">54</text>
<rect x="1176" y="1505" width="23" height="23"/><text x="1187" y="1522">55</text>
<rect x="1199" y="1505" width="23" height="23"/><text x="1210" y="1522">56</text>
<rect x="1222" y="1505" width="23" height="23"/><text x="1233" y="1522">57</text>
</g>
<text x="1422" y="1575" text-anchor="end" style="font-size:16px;font-weight:normal">WI-29429</text>
</svg>
</body></html>
